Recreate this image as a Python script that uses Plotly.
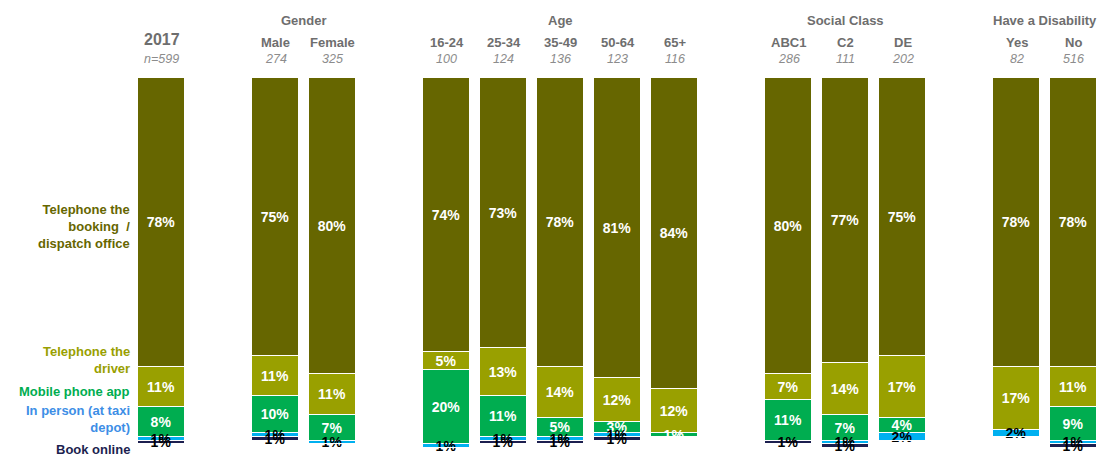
import plotly.graph_objects as go

# ---------------- data ----------------
categories = ["2017", "Male", "Female", "16-24", "25-34", "35-49", "50-64", "65+",
              "ABC1", "C2", "DE", "Yes", "No"]
groups = ["", "Gender", "Gender", "Age", "Age", "Age", "Age", "Age",
          "Social Class", "Social Class", "Social Class", "Have a Disability", "Have a Disability"]
base_sizes = ["n=599", "274", "325", "100", "124", "136", "123", "116",
              "286", "111", "202", "82", "516"]

booking_office = [78, 75, 80, 74, 73, 78, 81, 84, 80, 77, 75, 78, 78]
telephone_driver = [11, 11, 11, 5, 13, 14, 12, 12, 7, 14, 17, 17, 11]
mobile_app = [8, 10, 7, 20, 11, 5, 3, 1, 11, 7, 4, 0, 9]
in_person = [1, 1, 1, 1, 1, 1, 1, 0, 0, 1, 2, 2, 1]
book_online = [1, 1, 0, 0, 1, 1, 1, 0, 1, 1, 0, 0, 1]

series_names = ["Telephone the booking / dispatch office", "Telephone the driver",
                "Mobile phone app", "In person (at taxi depot)", "Book online"]
series_values = [booking_office, telephone_driver, mobile_app, in_person, book_online]
series_colors = ["#666600", "#99a000", "#00ad50", "#00b0f0", "#1c1f4f"]
label_colors = ["white", "white", "white", "black", "black"]
legend_text = ["Telephone the<br>booking  /<br>dispatch office", "Telephone the<br>driver",
               "Mobile phone app", "In person (at taxi<br>depot)", "Book online"]
legend_colors = ["#666600", "#99a000", "#00ad50", "#3d8ee6", "#1c1f4f"]

# slot positions: groups separated by one empty slot
x_pos = []
slot = 0
prev = None
for g in groups:
    if prev is not None and g != prev:
        slot += 1
    x_pos.append(slot)
    slot += 1
    prev = g

FONT = "Liberation Sans, Arial, sans-serif"

fig = go.Figure()
for name, vals, col, lc in zip(series_names, series_values, series_colors, label_colors):
    fig.add_trace(go.Bar(
        x=x_pos, y=vals, name=name,
        marker=dict(color=col, line=dict(color="white", width=1)),
        width=0.82,
        text=[f"<b>{v}%</b>" if v > 0 else "" for v in vals],
        textposition="inside", insidetextanchor="middle",
        constraintext="none", textangle=0,
        textfont=dict(color=lc, size=14, family=FONT),
        cliponaxis=False, showlegend=False,
        hovertemplate="%{y}%<extra>" + name + "</extra>",
    ))

ann = []
PH = 370.0
def py(px):
    # page pixel -> paper coordinate (plot area spans page px 78..448)
    return (448 - px) / PH

# column headers
for x, cat, n, g in zip(x_pos, categories, base_sizes, groups):
    big = (g == "")
    ann.append(dict(x=x, y=py(40 if big else 42), xref="x", yref="paper", yanchor="middle",
                    text=f"<b>{cat}</b>", showarrow=False,
                    font=dict(size=16 if big else 13, color="#6e6e6e", family=FONT)))
    ann.append(dict(x=x, y=py(59), xref="x", yref="paper", yanchor="middle",
                    text=f"<i>{n}</i>", showarrow=False,
                    font=dict(size=12.5, color="#8c8c8c", family=FONT)))
# group titles
seen = {}
for x, g in zip(x_pos, groups):
    if g:
        seen.setdefault(g, []).append(x)
for g, xs in seen.items():
    ann.append(dict(x=sum(xs) / len(xs), y=py(20), xref="x", yref="paper", yanchor="middle",
                    text=f"<b>{g}</b>", showarrow=False,
                    font=dict(size=13, color="#6e6e6e", family=FONT)))

# left-hand series labels
label_y = [226, 360, 391, 419, 449]
for t, c, yy in zip(legend_text, legend_colors, label_y):
    ann.append(dict(x=0, y=py(yy), xref="paper", yref="paper", xanchor="right",
                    yanchor="middle", xshift=-1, align="right", text=f"<b>{t}</b>",
                    showarrow=False, font=dict(size=13, color=c, family=FONT)))

# the page body has an 8px margin, so the figure is shrunk by 8px and margins offset
fig.update_layout(
    barmode="stack",
    width=1108, height=449,
    margin=dict(l=124.5, r=13.5, t=70, b=9),
    plot_bgcolor="white", paper_bgcolor="white",
    xaxis=dict(range=[-0.5, 16.5], visible=False, fixedrange=True),
    yaxis=dict(range=[100, 0], visible=False, fixedrange=True),
    annotations=ann,
    font=dict(family=FONT),
    bargap=0,
)

fig.write_html("out.html")
